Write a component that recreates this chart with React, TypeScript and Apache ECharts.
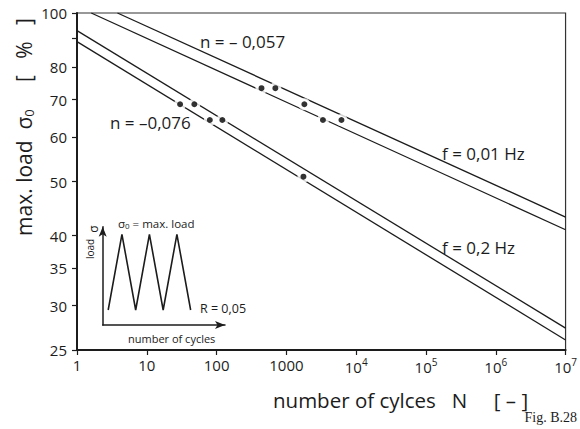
import React, { useEffect, useRef } from "react";
import * as echarts from "echarts";

// ---- data ----
const yTickValues = [25, 30, 35, 40, 50, 60, 70, 80, 90, 100];
const yLabelValues = [25, 30, 35, 40, 50, 60, 70, 80, 100];
const xMin = 1;
const xMax = 1e7;

// S-N lines (cycles, max. load %)
const line001Upper = [[3.8, 100], [1e7, 43.2]];
const line001Lower = [[1.6, 100], [1e7, 41.0]];
const line02Upper = [[1, 93.0], [1e7, 27.35]];
const line02Lower = [[1, 88.9], [1e7, 26.05]];

// test points
const tests001N = [440, 695, 1810, 3340, 6150];
const tests001Load = [73.4, 73.4, 68.7, 64.4, 64.4];
const tests02N = [30, 48, 80, 121, 1755];
const tests02Load = [68.7, 68.7, 64.4, 64.4, 51.0];

// inset: schematic load history
const waveCycles = [0.4, 1.4, 2.4, 3.4, 4.4, 5.4, 6.4];
const waveLoad = [0.05, 1, 0.05, 1, 0.05, 1, 0.05];

const FONT = "'Open Sans', 'DejaVu Sans', sans-serif";
const INK = "#1c1c1c";
const NB = "\u00a0";

function pts(xs: number[], ys: number[]) {
  return xs.map((x, i) => [x, ys[i]]);
}

export default function App() {
  const ref = useRef<HTMLDivElement>(null);
  useEffect(() => {
    if (!ref.current) return;
    const chart = echarts.init(ref.current, null, { renderer: "svg" });
    const points = [...pts(tests001N, tests001Load), ...pts(tests02N, tests02Load)];
    const lineSeries = (data: number[][]) => ({
      type: "line",
      data,
      xAxisIndex: 0,
      yAxisIndex: 0,
      showSymbol: false,
      symbol: "none",
      lineStyle: { color: INK, width: 1.3 },
      z: 2,
    });
    const txt = (x: number, y: number, text: string, size: number, extra: any = {}, rotation = 0) => ({
      type: "text",
      x,
      y,
      z: 50,
      rotation,
      style: {
        text,
        fontSize: size,
        fontFamily: FONT,
        fill: INK,
        align: "left",
        verticalAlign: "middle",
        ...extra,
      },
    });
    chart.setOption({
      animation: false,
      backgroundColor: "#fff",
      grid: [
        {
          left: 77,
          right: 10.5,
          top: 13,
          bottom: 79,
          show: true,
          borderColor: "#333",
          borderWidth: 1.2,
          backgroundColor: "transparent",
        },
        { left: 102.7, top: 226.7, width: 122.3, height: 98.3 },
      ],
      xAxis: [
        {
          type: "log",
          logBase: 10,
          min: xMin,
          max: xMax,
          gridIndex: 0,
          axisLine: { show: true, lineStyle: { color: INK, width: 2 } },
          axisTick: { show: true, inside: false, length: 5, lineStyle: { color: INK, width: 1.2 } },
          splitLine: { show: false },
          minorTick: { show: false },
          axisLabel: {
            margin: 7,
            color: INK,
            fontSize: 15,
            fontFamily: FONT,
            formatter: (v: number) => {
              const e = Math.round(Math.log10(v));
              return e >= 4 ? `10{s|${e}}` : String(Math.round(v));
            },
            rich: { s: { fontSize: 10, fontFamily: FONT, color: INK, padding: [0, 0, 9, 0] } },
          },
        },
        {
          type: "value",
          gridIndex: 1,
          min: 0,
          max: 8.9,
          axisLine: {
            show: true,
            onZero: false,
            symbol: ["none", "arrow"],
            symbolSize: [6, 10],
            lineStyle: { color: INK, width: 1.5 },
          },
          axisTick: { show: false },
          axisLabel: { show: false },
          splitLine: { show: false },
        },
      ],
      yAxis: [
        {
          type: "log",
          logBase: 10,
          min: 25,
          max: 100,
          gridIndex: 0,
          axisLine: { show: true, lineStyle: { color: INK, width: 2 } },
          axisTick: {
            show: true,
            length: 5,
            customValues: yTickValues,
            lineStyle: { color: INK, width: 1.2 },
          },
          splitLine: { show: false },
          minorTick: { show: false },
          axisLabel: {
            margin: 10,
            color: INK,
            fontSize: 15,
            fontFamily: FONT,
            customValues: yLabelValues,
            formatter: (v: number) => String(Math.round(v)),
          },
        },
        {
          type: "value",
          gridIndex: 1,
          min: -0.138,
          max: 1.095,
          axisLine: {
            show: true,
            onZero: false,
            symbol: ["none", "arrow"],
            symbolSize: [6, 10],
            lineStyle: { color: INK, width: 1.5 },
          },
          axisTick: { show: false },
          axisLabel: { show: false },
          splitLine: { show: false },
        },
      ],
      series: [
        lineSeries(line001Upper),
        lineSeries(line001Lower),
        lineSeries(line02Upper),
        lineSeries(line02Lower),
        {
          type: "scatter",
          data: points,
          xAxisIndex: 0,
          yAxisIndex: 0,
          symbol: "circle",
          symbolSize: 12,
          itemStyle: { color: "#fff" },
          z: 3,
        },
        {
          type: "scatter",
          data: points,
          xAxisIndex: 0,
          yAxisIndex: 0,
          symbol: "circle",
          symbolSize: 6,
          itemStyle: { color: "#000" },
          z: 4,
        },
        {
          type: "line",
          data: pts(waveCycles, waveLoad),
          xAxisIndex: 1,
          yAxisIndex: 1,
          showSymbol: false,
          symbol: "none",
          lineStyle: { color: INK, width: 1.6 },
          z: 5,
        },
      ],
      graphic: [
        txt(
          24,
          127,
          `max. load${NB}${NB}{g|σ}{sub|0}${NB}${NB}${NB}${NB}${NB}[${NB}${NB}${NB}%${NB}${NB}${NB}]`,
          21,
          {
            align: "center",
            rich: {
              g: { fontSize: 21, fontFamily: FONT, fill: INK },
              sub: { fontSize: 13, fontFamily: FONT, fill: INK, padding: [9, 0, 0, 0] },
            },
          },
          Math.PI / 2
        ),
        txt(273, 400, `number of cylces${NB}${NB}${NB}N${NB}${NB}${NB}${NB}${NB}[${NB}–${NB}]`, 20.5),
        txt(577, 417, "Fig. B.28", 14, {
          align: "right",
          fontFamily: "'Liberation Serif', 'DejaVu Serif', serif",
        }),
        txt(200, 41, "n = – 0,057", 17),
        txt(110, 122, "n = –0,076", 17),
        txt(442, 153, "f = 0,01 Hz", 17),
        txt(442, 247, "f = 0,2 Hz", 17),
        txt(118, 223, "σ{sub|0} = max. load", 11.5, {
          rich: { sub: { fontSize: 8, fontFamily: FONT, fill: INK, padding: [5, 0, 0, 0] } },
        }),
        txt(200, 308, "R = 0,05", 12.5),
        txt(128, 338, "number of cycles", 11),
        txt(90, 249, "load", 10, { align: "center" }, Math.PI / 2),
        txt(93, 229, "σ", 12, { align: "center" }, Math.PI / 2),
      ],
    });
    return () => chart.dispose();
  }, []);
  return (
    <div
      ref={ref}
      style={{ position: "fixed", left: 0, top: 0, width: 580, height: 429, background: "#fff" }}
    />
  );
}
